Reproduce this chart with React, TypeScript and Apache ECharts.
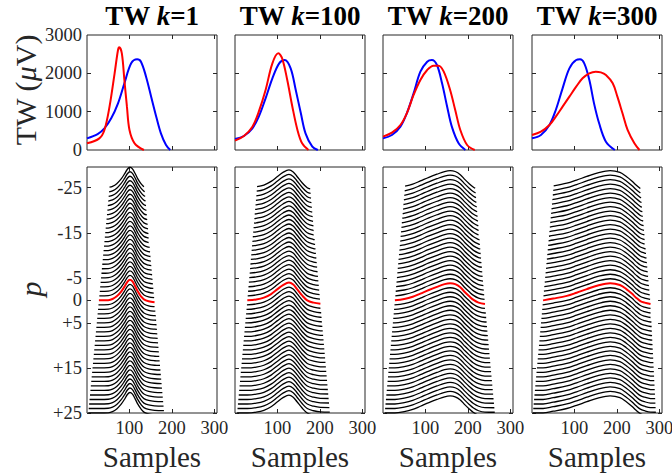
import { useEffect, useRef } from 'react';
import * as echarts from 'echarts';

// ---------- data ----------
const K_VALUES = ['1', '100', '200', '300'];

// top row: template waveforms (sample, µV)
const P1_BLUE_X = [0, 25, 41, 57, 73, 88, 104, 118, 127, 139, 151, 163, 174, 186, 196];
const P1_BLUE_Y = [304, 417, 565, 826, 1217, 1739, 2261, 2365, 2304, 1913, 1391, 870, 435, 130, 0];
const P1_RED_X = [0, 29, 41, 53, 65, 73, 76, 82, 88, 94, 100, 112, 134];
const P1_RED_Y = [174, 304, 522, 1130, 2000, 2609, 2678, 2520, 1826, 1130, 522, 174, 0];

const P2_BLUE_X = [0, 21, 41, 56, 72, 88, 104, 117, 131, 143, 155, 166, 182, 195];
const P2_BLUE_Y = [287, 365, 565, 870, 1348, 1870, 2261, 2348, 2130, 1565, 957, 435, 87, 0];
const P2_RED_X = [0, 21, 41, 56, 72, 88, 102, 111, 123, 135, 147, 158, 173];
const P2_RED_Y = [243, 365, 609, 1000, 1565, 2261, 2522, 2391, 1826, 1130, 522, 174, 0];

const P3_BLUE_X = [0, 21, 41, 56, 72, 88, 104, 115, 127, 139, 151, 162, 178, 194];
const P3_BLUE_Y = [304, 391, 609, 957, 1478, 2043, 2304, 2348, 2217, 1739, 1130, 609, 174, 0];
const P3_RED_X = [0, 21, 41, 56, 72, 88, 104, 119, 131, 143, 158, 170, 182, 198, 216];
const P3_RED_Y = [348, 452, 652, 957, 1435, 1826, 2087, 2200, 2200, 2043, 1565, 1043, 522, 130, 0];

const P4_BLUE_X = [0, 21, 41, 56, 72, 88, 104, 113, 123, 135, 146, 158, 174, 195];
const P4_BLUE_Y = [304, 391, 652, 1043, 1609, 2130, 2348, 2365, 2261, 1826, 1217, 696, 217, 0];
const P4_RED_X = [0, 21, 41, 56, 72, 88, 104, 119, 135, 150, 162, 174, 190, 201, 213, 225, 241, 253];
const P4_RED_Y = [391, 478, 652, 870, 1130, 1391, 1652, 1870, 2000, 2043, 2026, 1957, 1739, 1391, 957, 522, 174, 0];

// bottom row: warped-waveform profile (sample, offset in p units) and line extents
const W1_X = [0, 28, 50, 60, 70, 80, 88, 95, 101, 107, 113, 120, 127, 134, 145, 159, 185];
const W1_D = [0, 0, -0.05, -0.3, -0.9, -1.9, -3.0, -4.1, -4.55, -4.2, -3.2, -1.9, -0.9, -0.2, 0.2, 0.4, 0.5];
const W2_X = [0, 29, 50, 68, 85, 100, 113, 127, 137, 146, 158, 170, 185, 201, 230];
const W2_D = [0, 0, -0.2, -0.6, -1.4, -2.5, -3.4, -3.95, -3.5, -2.5, -1.1, 0, 0.5, 0.75, 0.8];
const W3_X = [0, 28, 50, 70, 88, 108, 127, 145, 158, 170, 182, 193, 203, 213, 225, 240, 270];
const W3_D = [0, 0, -0.3, -0.8, -1.5, -2.3, -3.0, -3.6, -3.8, -3.6, -2.9, -1.8, -0.9, -0.1, 0.5, 0.8, 0.85];
const W4_X = [0, 26, 50, 82, 105, 129, 155, 184, 207, 222, 235, 245, 255, 265, 279, 300];
const W4_D = [0, 0, -0.4, -1.0, -1.7, -2.5, -3.3, -3.8, -3.4, -2.5, -1.5, -0.6, 0.15, 0.5, 0.8, 0.85];

// line start / end sample at p = -25, 0, +25
const START_1 = [53, 28, 3];
const END_1 = [135, 159, 182];
const START_2 = [52, 29, 5];
const END_2 = [177, 201, 224];
const START_3 = [52, 28, 4];
const END_3 = [217, 240, 264];
const START_4 = [51, 26, 2];
const END_4 = [255, 279, 292];

const P_MIN = -25;
const P_MAX = 25;

const X_TICKS = [100, 200, 300];
const TW_TICKS = [0, 1000, 2000, 3000];
const P_TICKS = [-25, -15, -5, 0, 5, 15, 25];

// ---------- helpers ----------
const zip = (xs: number[], ys: number[]) => xs.map((x, i) => [x, ys[i]]);

function valueAt(xs: number[], ds: number[], x: number) {
  if (x <= xs[0]) return ds[0];
  for (let i = 1; i < xs.length; i++) {
    if (x <= xs[i]) {
      const t = (x - xs[i - 1]) / (xs[i] - xs[i - 1]);
      return ds[i - 1] + t * (ds[i] - ds[i - 1]);
    }
  }
  return ds[ds.length - 1];
}

function extentAt(e: number[], p: number) {
  if (p <= 0) return e[1] + (e[0] - e[1]) * (p / P_MIN);
  return e[1] + (e[2] - e[1]) * (p / P_MAX);
}

function warpedLine(xs: number[], ds: number[], st: number[], en: number[], p: number) {
  const a = extentAt(st, p);
  const b = extentAt(en, p);
  const pts: number[][] = [[a, p + valueAt(xs, ds, a)]];
  xs.forEach((x, i) => {
    if (x > a && x < b) pts.push([x, p + ds[i]]);
  });
  pts.push([b, p + valueAt(xs, ds, b)]);
  return pts;
}

const TOP = [
  { blue: zip(P1_BLUE_X, P1_BLUE_Y), red: zip(P1_RED_X, P1_RED_Y) },
  { blue: zip(P2_BLUE_X, P2_BLUE_Y), red: zip(P2_RED_X, P2_RED_Y) },
  { blue: zip(P3_BLUE_X, P3_BLUE_Y), red: zip(P3_RED_X, P3_RED_Y) },
  { blue: zip(P4_BLUE_X, P4_BLUE_Y), red: zip(P4_RED_X, P4_RED_Y) },
];
const BOTTOM = [
  { xs: W1_X, ds: W1_D, st: START_1, en: END_1 },
  { xs: W2_X, ds: W2_D, st: START_2, en: END_2 },
  { xs: W3_X, ds: W3_D, st: START_3, en: END_3 },
  { xs: W4_X, ds: W4_D, st: START_4, en: END_4 },
];

// ---------- layout ----------
const FONT = "'Liberation Serif', 'Times New Roman', serif";
const AXIS_COLOR = '#262626';
const PANEL_LEFT = [87, 235, 383, 532];
const PANEL_W = 130;
const TOP_Y = 35;
const TOP_H = 115;
const BOT_Y = 167;
const BOT_H = 246;
const X_MAX = 306;

function buildOption() {
  const grid: any[] = [];
  const xAxis: any[] = [];
  const yAxis: any[] = [];
  const series: any[] = [];

  const tick = (vals: number[]) => ({
    show: true,
    inside: true,
    length: 4,
    customValues: vals,
    lineStyle: { color: AXIS_COLOR, width: 1 },
  });
  const label = (show: boolean, vals: number[], fmt: (v: number) => string) => ({
    show,
    customValues: vals,
    fontFamily: FONT,
    fontSize: 18.5,
    color: AXIS_COLOR,
    margin: 5,
    formatter: fmt,
  });
  const plain = (v: number) => String(v);
  const line = { show: false, onZero: false };

  for (let row = 0; row < 2; row++) {
    for (let i = 0; i < 4; i++) {
      const g = row * 4 + i;
      grid.push({
        left: PANEL_LEFT[i],
        top: row === 0 ? TOP_Y : BOT_Y,
        width: PANEL_W,
        height: row === 0 ? TOP_H : BOT_H,
        show: true,
        borderColor: AXIS_COLOR,
        borderWidth: 1,
        backgroundColor: 'transparent',
        outerBoundsMode: 'none',
      });
      ['bottom', 'top'].forEach((pos) => {
        xAxis.push({
          type: 'value',
          gridIndex: g,
          position: pos,
          min: 0,
          max: X_MAX,
          axisLine: line,
          splitLine: { show: false },
          axisTick: tick(X_TICKS),
          axisLabel: label(row === 1 && pos === 'bottom', X_TICKS, plain),
        });
      });
      ['left', 'right'].forEach((pos) => {
        if (row === 0) {
          yAxis.push({
            type: 'value',
            gridIndex: g,
            position: pos,
            min: 0,
            max: 3000,
            axisLine: line,
            splitLine: { show: false },
            axisTick: tick([1000, 2000]),
            axisLabel: label(i === 0 && pos === 'left', TW_TICKS, plain),
          });
        } else {
          yAxis.push({
            type: 'value',
            gridIndex: g,
            position: pos,
            inverse: true,
            min: -29.6,
            max: 25,
            axisLine: line,
            splitLine: { show: false },
            axisTick: tick(P_TICKS),
            axisLabel: label(i === 0 && pos === 'left', P_TICKS, (v: number) =>
              v > 0 ? '+' + v : String(v)
            ),
          });
        }
      });

      if (row === 0) {
        series.push({
          type: 'line',
          xAxisIndex: 2 * g,
          yAxisIndex: 2 * g,
          data: TOP[i].blue,
          showSymbol: false,
          smooth: 0.35,
          lineStyle: { color: '#0000ff', width: 2 },
          z: 3,
        });
        series.push({
          type: 'line',
          xAxisIndex: 2 * g,
          yAxisIndex: 2 * g,
          data: TOP[i].red,
          showSymbol: false,
          smooth: 0.35,
          lineStyle: { color: '#ff0000', width: 2 },
          z: 4,
        });
      } else {
        const b = BOTTOM[i];
        for (let p = P_MIN; p <= P_MAX; p++) {
          if (p === 0) continue;
          series.push({
            type: 'line',
            xAxisIndex: 2 * g,
            yAxisIndex: 2 * g,
            data: warpedLine(b.xs, b.ds, b.st, b.en, p),
            showSymbol: false,
            smooth: 0.35,
            lineStyle: { color: '#000000', width: 1.3 },
            z: 2,
          });
        }
        series.push({
          type: 'line',
          xAxisIndex: 2 * g,
          yAxisIndex: 2 * g,
          data: warpedLine(b.xs, b.ds, b.st, b.en, 0),
          showSymbol: false,
          smooth: 0.35,
          lineStyle: { color: '#ff0000', width: 2 },
          z: 5,
        });
      }
    }
  }

  const graphic: any[] = [];
  K_VALUES.forEach((k, i) => {
    const cx = PANEL_LEFT[i] + PANEL_W / 2;
    graphic.push({
      type: 'text',
      x: cx,
      y: 16,
      style: {
        text: `{b|TW }{i|k}{b|=${k}}`,
        textAlign: 'center',
        textVerticalAlign: 'middle',
        rich: {
          b: { fontFamily: FONT, fontSize: 27, fontWeight: 'bold', fill: '#000' },
          i: { fontFamily: FONT, fontSize: 27, fontWeight: 'bold', fontStyle: 'italic', fill: '#000' },
        },
      },
    });
    graphic.push({
      type: 'text',
      x: cx,
      y: 457,
      style: {
        text: 'Samples',
        textAlign: 'center',
        textVerticalAlign: 'middle',
        fontFamily: FONT,
        fontSize: 29,
        fill: AXIS_COLOR,
      },
    });
  });
  graphic.push({
    type: 'text',
    x: 25,
    y: 90,
    rotation: Math.PI / 2,
    style: {
      text: '{n|TW (}{i|μ}{n|V)}',
      textAlign: 'center',
      textVerticalAlign: 'middle',
      rich: {
        n: { fontFamily: FONT, fontSize: 30, fill: AXIS_COLOR },
        i: { fontFamily: FONT, fontSize: 30, fontStyle: 'italic', fill: AXIS_COLOR },
      },
    },
  });
  graphic.push({
    type: 'text',
    x: 30,
    y: 289,
    rotation: Math.PI / 2,
    style: {
      text: 'p',
      textAlign: 'center',
      textVerticalAlign: 'middle',
      fontFamily: FONT,
      fontSize: 30,
      fontStyle: 'italic',
      fill: AXIS_COLOR,
    },
  });

  return {
    animation: false,
    backgroundColor: '#ffffff',
    grid,
    xAxis,
    yAxis,
    series,
    graphic,
  };
}

export default function App() {
  const ref = useRef<HTMLDivElement>(null);
  useEffect(() => {
    if (!ref.current) return;
    const chart = echarts.init(ref.current, undefined, { renderer: 'svg' });
    chart.setOption(buildOption() as any);
    return () => chart.dispose();
  }, []);
  return (
    <div
      ref={ref}
      style={{ position: 'fixed', left: 0, top: 0, width: 672, height: 476 }}
    />
  );
}
